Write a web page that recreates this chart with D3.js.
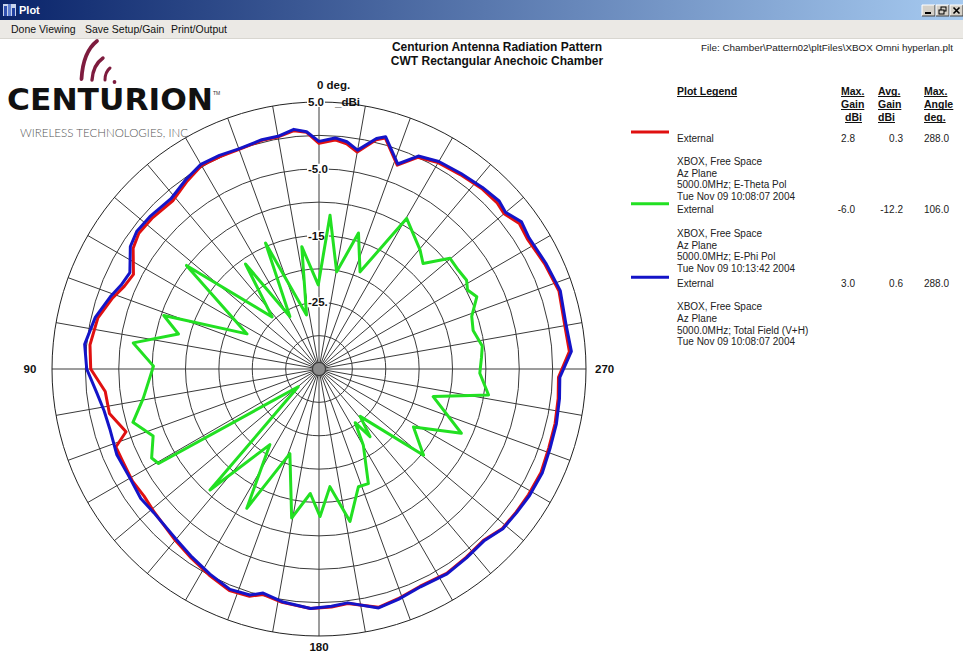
<!DOCTYPE html>
<html>
<head>
<meta charset="utf-8">
<title>Plot</title>
<script src="https://cdn.jsdelivr.net/npm/d3@7/dist/d3.min.js"></script>
<style>
html,body{margin:0;padding:0;background:#fff;overflow:hidden}
svg{display:block}
</style>
</head>
<body>
<svg id="plot" width="963" height="655"></svg>
<script>
// Azimuth in degrees (counter-clockwise from 0 at the top), gain in dBi.
const eThetaAngle = [0,3,6,10,14,20,25,30,35,41,48,53,57,63,67,71,77,84,90,96,102,108,111,115,121,126,131,140,146,152,158,163,166,171,178,183,187,194,199,205,212,218,224,229,234,239,245,251,257,263,268,274,280,288,295,302,306,310,313,318,324,330,335,339,344,346,350,353,356];
const eThetaGain  = [-1.2,0.5,0.9,0.3,0.3,0.0,0.1,0.2,-0.6,-1.6,-1.3,-1.2,-1.8,-3.8,-3.3,-2.3,-1.0,-0.5,-0.8,-2.8,-2.9,-4.6,-2.4,-2.5,-2.4,-2.6,-2.3,-1.5,-0.8,0.0,0.8,0.6,-0.2,0.4,0.9,0.7,0.4,1.8,1.4,0.9,1.1,0.8,0.6,1.4,1.5,1.6,1.7,1.4,1.3,1.1,0.9,2.6,2.4,2.8,2.3,1.8,2.1,1.2,1.5,1.4,1.0,0.7,0.0,-2.3,1.0,0.4,-2.0,-1.0,-0.6];

const ePhiAngle = [0.5,8,13,23,29,35,42,52,64,71,76,82,89,99.5,106,112,118,120.5,130.5,138,147,152.6,161,169.6,176,180.4,185.3,191.5,198.5,203.3,210.2,214,217,221,230.5,238.5,245.7,256.4,261.3,268.5,274,278,284,289,294.6,298,301,305.4,310.2,315.4,319.7,329.8,337.1,343.8,349.7,355.9];
const ePhiGain  = [-22.4,-16.5,-26.7,-14.5,-26.0,-15.8,-24.5,-9.8,-23.0,-10.4,-13.3,-6.9,-10.2,-8.3,-6.0,-8.2,-6.6,-7.1,-30.9,-10.6,-21.5,-11.5,-21.6,-12.3,-16.3,-12.9,-17.3,-11.7,-16.4,-16.3,-21.8,-25.3,-22.3,-25.6,-14.7,-18.4,-11.6,-17.4,-9.3,-10.9,-10.6,-10.3,-11.2,-10.8,-9.0,-9.8,-9.2,-9.4,-9.3,-12.8,-11.6,-8.9,-19.2,-13.8,-20.2,-11.9];

const totalAngle = [0,3,6,10,14,20,25,30,35,41,48,53,57,63,67,71,77,84,90,96,101,106,113,120,126,131,140,146,152,158,163,166,171,178,183,187,194,199,205,212,218,224,229,234,239,245,251,257,263,268,274,280,288,295,302,306,310,313,318,324,330,335,339,344,346,350,353,356];
const totalGain  = [-0.9,0.6,1.1,0.4,0.4,0.1,0.3,0.4,-0.3,-1.2,-0.9,-0.8,-1.3,-3.2,-2.8,-1.9,-0.6,0.3,-0.2,-1.5,-2.2,-2.4,-2.1,-2.3,-2.0,-2.2,-1.7,-1.0,-0.2,0.6,0.4,-0.4,0.3,0.9,0.6,0.3,1.9,1.5,1.0,1.2,0.9,0.7,1.5,1.6,1.8,1.9,1.6,1.5,1.3,1.1,2.9,2.6,3.0,2.5,2.1,2.5,1.5,1.9,1.6,1.2,0.9,0.2,-2.1,1.2,0.6,-1.7,-0.7,-0.3];

// Grid and labels
const ringTicks = [-30,-25,-20,-15,-10,-5,0,5];
const ringLabelValue = [5,-5,-15,-25];
const ringLabelText = ["5.0","-5.0","-15.","-25."];
const spokeAngles = d3.range(0,360,10);
const cardinalText = ["90","180","270"];

// Legend contents
const seriesColor = ["#e01010","#22e022","#1414c8"];
const seriesName = ["External","External","External"];
const seriesMaxGain = ["2.8","-6.0","3.0"];
const seriesAvgGain = ["0.3","-12.2","0.6"];
const seriesMaxAngle = ["288.0","106.0","288.0"];
const seriesNotes = [
  ["XBOX, Free Space","Az Plane","5000.0MHz; E-Theta Pol","Tue Nov 09 10:08:07 2004"],
  ["XBOX, Free Space","Az Plane","5000.0MHz; E-Phi Pol","Tue Nov 09 10:13:42 2004"],
  ["XBOX, Free Space","Az Plane","5000.0MHz; Total Field (V+H)","Tue Nov 09 10:08:07 2004"]
];
const menuItems = ["Done Viewing","Save Setup/Gain","Print/Output"];

const svg = d3.select("#plot");
const W = 963, H = 655;
const UI = "'Liberation Sans', Arial, sans-serif";

svg.append("rect").attr("width",W).attr("height",H).attr("fill","#fff");

// ---- window caption ----
const defs = svg.append("defs");
const cap = defs.append("linearGradient").attr("id","cap").attr("x1","0").attr("x2","1");
cap.append("stop").attr("offset","0").attr("stop-color","#0a246a");
cap.append("stop").attr("offset","1").attr("stop-color","#a6caf0");
svg.append("rect").attr("x",0).attr("y",0).attr("width",W).attr("height",20).attr("fill","url(#cap)");
const icon = svg.append("g").attr("transform","translate(3,3)");
icon.append("rect").attr("x",0).attr("y",1).attr("width",13).attr("height",12).attr("fill","#c8d4ec");
[[1,3,3,10,"#3050b0"],[5,1,3,12,"#6080d0"],[9,5,3,8,"#2040a0"]].forEach(b=>{
  icon.append("rect").attr("x",b[0]).attr("y",b[1]).attr("width",b[2]).attr("height",b[3]).attr("fill",b[4]);
});
svg.append("text").attr("x",19).attr("y",14).attr("font-family",UI).attr("font-weight","bold")
  .attr("font-size",11).attr("fill","#fff").text("Plot");
// caption buttons
[[922,"min"],[936,"max"],[950,"close"]].forEach(([x,k])=>{
  const g = svg.append("g").attr("transform",`translate(${x},5)`);
  g.append("rect").attr("width",13).attr("height",11).attr("fill","#d4d0c8");
  g.append("path").attr("d","M0,11V0H13").attr("stroke","#fff").attr("fill","none");
  g.append("path").attr("d","M0,11H13V0").attr("stroke","#404040").attr("fill","none");
  if(k==="min") g.append("rect").attr("x",3).attr("y",7).attr("width",6).attr("height",2).attr("fill","#000");
  if(k==="max"){
    g.append("rect").attr("x",5).attr("y",2).attr("width",5).attr("height",4).attr("fill","none").attr("stroke","#000");
    g.append("rect").attr("x",3).attr("y",5).attr("width",5).attr("height",4).attr("fill","#d4d0c8").attr("stroke","#000");
  }
  if(k==="close") g.append("path").attr("d","M3.5,2.5L9.5,8.5M9.5,2.5L3.5,8.5").attr("stroke","#000").attr("stroke-width",1.6);
});

// ---- menu bar ----
svg.append("rect").attr("x",0).attr("y",20).attr("width",W).attr("height",18).attr("fill","#ebe9e5");
svg.append("line").attr("x1",0).attr("x2",W).attr("y1",38.5).attr("y2",38.5).attr("stroke","#d8d6d0");
const menuX = [11,85,171];
svg.selectAll("text.menu").data(menuItems).join("text").attr("class","menu")
  .attr("x",(d,i)=>menuX[i]).attr("y",33).attr("font-family",UI).attr("font-size",10.5)
  .attr("fill","#111").text(d=>d);

// ---- logo ----
const logo = svg.append("g");
const maroon = "#7e1c3e";
[["M97,41 Q83,52 81.5,79",3.8],["M103,58 Q93,65 92,80",3.4],["M110,68 Q105,72 105,80",3.0]].forEach(([d,w])=>{
  logo.append("path").attr("d",d).attr("fill","none").attr("stroke",maroon).attr("stroke-width",w).attr("stroke-linecap","round");
});
logo.append("circle").attr("cx",114.5).attr("cy",82).attr("r",1.9).attr("fill",maroon);
logo.append("text").attr("x",7).attr("y",110).attr("font-family","'DejaVu Sans', sans-serif").attr("font-weight","bold")
  .attr("font-size",30).attr("textLength",206).attr("lengthAdjust","spacingAndGlyphs").attr("fill","#111").text("CENTURION");
logo.append("text").attr("x",213).attr("y",95).attr("font-family",UI).attr("font-size",5).attr("fill","#333").text("TM");
logo.append("text").attr("x",20).attr("y",137).attr("font-family","Lato, 'Liberation Sans', sans-serif").attr("font-weight",300)
  .attr("font-size",11).attr("textLength",168).attr("lengthAdjust","spacingAndGlyphs").attr("fill","#555")
  .text("WIRELESS TECHNOLOGIES, INC");

// ---- headings ----
svg.append("text").attr("x",497).attr("y",51).attr("text-anchor","middle").attr("font-family",UI)
  .attr("font-weight","bold").attr("font-size",12).attr("fill","#111").text("Centurion Antenna Radiation Pattern");
svg.append("text").attr("x",497).attr("y",64.5).attr("text-anchor","middle").attr("font-family",UI)
  .attr("font-weight","bold").attr("font-size",12).attr("fill","#111").text("CWT Rectangular Anechoic Chamber");
svg.append("text").attr("x",701).attr("y",51).attr("font-family",UI).attr("font-size",9.5)
  .attr("textLength",252).attr("lengthAdjust","spacingAndGlyphs").attr("fill","#222")
  .text("File: Chamber\\Pattern02\\pltFiles\\XBOX Omni hyperlan.plt");

// ---- polar plot ----
const cx = 319, cy = 369, R = 267;
const r = d3.scaleLinear().domain([-35,5]).range([0,R]);
const toRad = d => -d*Math.PI/180;   // counter-clockwise azimuth
const plot = svg.append("g").attr("transform",`translate(${cx},${cy})`);
const gridColor = "#3a3a3a";

plot.selectAll("line.spoke").data(spokeAngles).join("line").attr("class","spoke")
  .attr("x1",0).attr("y1",0)
  .attr("x2",d=>r(5)*Math.sin(toRad(d))).attr("y2",d=>-r(5)*Math.cos(toRad(d)))
  .attr("stroke",gridColor).attr("stroke-width",1);
plot.selectAll("circle.ring").data(ringTicks).join("circle").attr("class","ring")
  .attr("r",d=>r(d)).attr("fill","none").attr("stroke",d=>d===5?"#222":gridColor).attr("stroke-width",1);
plot.append("circle").attr("r",6.5).attr("fill","#8c8c8c").attr("stroke","#333").attr("stroke-width",1);

// ring labels on the 0 deg. axis
const lab = plot.append("g");
ringLabelValue.forEach((v,i)=>{
  const g = lab.append("g");
  const t = g.append("text").attr("x",-11).attr("y",-r(v)+4).attr("font-family",UI).attr("font-weight","bold")
    .attr("font-size",11.5).attr("fill","#111").text(ringLabelText[i]);
  const b = t.node().getBBox();
  g.insert("rect","text").attr("x",b.x-1).attr("y",b.y+1).attr("width",b.width+2).attr("height",b.height-2).attr("fill","#fff");
});
lab.append("text").attr("x",16).attr("y",-r(5)+4).attr("font-family",UI).attr("font-weight","bold")
  .attr("font-size",11.5).attr("fill","#111").text("_dBi");
lab.append("text").attr("x",-2).attr("y",-r(5)-13).attr("font-family",UI).attr("font-weight","bold")
  .attr("font-size",11.5).attr("fill","#111").text("0 deg.");
lab.append("text").attr("x",-R-22).attr("y",4).attr("text-anchor","middle").attr("font-family",UI).attr("font-weight","bold")
  .attr("font-size",11.5).attr("fill","#111").text(cardinalText[0]);
lab.append("text").attr("x",0).attr("y",R+15).attr("text-anchor","middle").attr("font-family",UI).attr("font-weight","bold")
  .attr("font-size",11.5).attr("fill","#111").text(cardinalText[1]);
lab.append("text").attr("x",R+9).attr("y",4).attr("font-family",UI).attr("font-weight","bold")
  .attr("font-size",11.5).attr("fill","#111").text(cardinalText[2]);

// pattern traces
const radial = d3.lineRadial().angle(d=>toRad(d[0])).radius(d=>r(d[1])).curve(d3.curveLinearClosed);
const traces = [
  [ePhiAngle, ePhiGain, seriesColor[1]],
  [eThetaAngle, eThetaGain, seriesColor[0]],
  [totalAngle, totalGain, seriesColor[2]]
];
traces.forEach(([a,g,c])=>{
  plot.append("path").datum(d3.zip(a,g)).attr("d",radial).attr("fill","none")
    .attr("stroke",c).attr("stroke-width",3).attr("stroke-linejoin","round");
});

// ---- legend ----
const leg = svg.append("g");
function ulText(x,y,s){
  const t = leg.append("text").attr("x",x).attr("y",y).attr("font-family",UI).attr("font-weight","bold")
    .attr("font-size",10.5).attr("fill","#111").text(s);
  const b = t.node().getBBox();
  leg.append("line").attr("x1",b.x).attr("x2",b.x+b.width).attr("y1",y+1.5).attr("y2",y+1.5)
    .attr("stroke","#111").attr("stroke-width",1);
}
ulText(677,95,"Plot Legend");
[["Max.","Gain","dBi"],["Avg.","Gain","dBi"],["Max.","Angle","deg."]].forEach((col,ci)=>{
  const x = [841,878,924][ci];
  col.forEach((s,li)=> ulText(x + (ci===0 && li===2 ? 4 : 0), 95+li*13, s));
});
const rowY = [141.5, 213.3, 286.7];
const lh = 11.7;
seriesName.forEach((n,i)=>{
  const y = rowY[i];
  leg.append("line").attr("x1",631).attr("x2",669).attr("y1",y-9.5).attr("y2",y-9.5)
    .attr("stroke",seriesColor[i]).attr("stroke-width",3);
  const txt = (x,yy,s,anchor)=>leg.append("text").attr("x",x).attr("y",yy).attr("text-anchor",anchor||"start")
    .attr("font-family",UI).attr("font-size",10).attr("fill","#222").text(s);
  txt(677,y,n);
  txt(855,y,seriesMaxGain[i],"end");
  txt(903,y,seriesAvgGain[i],"end");
  txt(949,y,seriesMaxAngle[i],"end");
  seriesNotes[i].forEach((s,k)=> txt(677, y+23.5+k*lh, s));
});
</script>
</body>
</html>
